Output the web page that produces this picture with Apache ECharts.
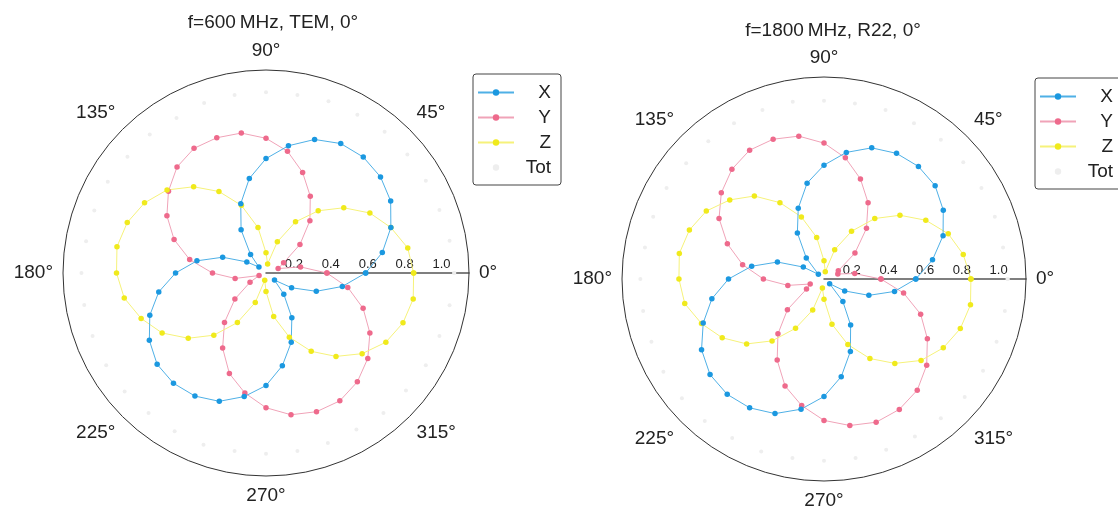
<!DOCTYPE html>
<html>
<head>
<meta charset="utf-8">
<script src="https://cdn.jsdelivr.net/npm/echarts@6/dist/echarts.min.js"></script>
<style>html,body{margin:0;padding:0;background:#fff;}#c{width:1118px;height:509px;}</style>
</head>
<body>
<div id="c"></div>
<script>
// Angles (degrees) of the sampled points
const angles = [0,10,20,30,40,50,60,70,80,90,100,110,120,130,140,150,160,170,180,190,200,210,220,230,240,250,260,270,280,290,300,310,320,330,340,350];
const angleTicks = ['0°','45°','90°','135°','180°','225°','270°','315°'];
const radiusTicks = ['0.2','0.4','0.6','0.8','1.0'];
const seriesNames = ['X','Y','Z','Tot'];
const titles = ['f=600\u2009MHz, TEM, 0°', 'f=1800\u2009MHz, R22, 0°'];

// Left plot: f=600 MHz, TEM
const tem_X = [0.54,0.64,0.72,0.78,0.81,0.82,0.81,0.77,0.70,0.62,0.52,0.40,0.27,0.13,0.05,0.12,0.25,0.38,0.49,0.59,0.67,0.73,0.77,0.78,0.77,0.74,0.68,0.61,0.51,0.40,0.28,0.15,0.06,0.16,0.29,0.42];
const tem_Y = [0.33,0.19,0.07,0.11,0.24,0.37,0.48,0.58,0.67,0.73,0.77,0.78,0.78,0.75,0.69,0.62,0.53,0.42,0.29,0.17,0.04,0.10,0.22,0.35,0.47,0.58,0.66,0.73,0.78,0.80,0.80,0.77,0.72,0.65,0.56,0.45];
const tem_Z = [0.80,0.78,0.72,0.65,0.55,0.44,0.32,0.18,0.05,0.11,0.25,0.39,0.51,0.61,0.70,0.76,0.80,0.82,0.81,0.78,0.72,0.65,0.55,0.44,0.31,0.17,0.04,0.10,0.24,0.37,0.49,0.59,0.68,0.75,0.79,0.81];
const tem_Tot = [1.02,1.01,1.00,1.00,1.00,1.00,0.99,0.99,0.98,0.98,0.98,0.98,0.97,0.98,0.98,0.99,0.99,0.99,1.00,1.00,1.00,1.00,1.00,0.99,0.99,0.99,0.98,0.98,0.98,0.98,0.98,0.99,0.99,1.00,1.00,1.01];

// Right plot: f=1800 MHz, R22
const r22_X = [0.50,0.60,0.69,0.75,0.79,0.80,0.79,0.76,0.70,0.62,0.53,0.41,0.29,0.15,0.04,0.13,0.27,0.40,0.52,0.62,0.70,0.77,0.81,0.82,0.81,0.78,0.72,0.64,0.54,0.42,0.29,0.16,0.04,0.13,0.26,0.39];
const r22_Y = [0.31,0.17,0.08,0.09,0.22,0.36,0.48,0.58,0.67,0.74,0.79,0.81,0.81,0.78,0.73,0.66,0.56,0.45,0.33,0.20,0.08,0.11,0.26,0.39,0.51,0.62,0.70,0.77,0.81,0.83,0.82,0.79,0.73,0.65,0.56,0.44];
const r22_Z = [0.80,0.77,0.72,0.64,0.54,0.43,0.30,0.17,0.04,0.10,0.23,0.36,0.48,0.59,0.67,0.74,0.78,0.80,0.79,0.77,0.71,0.64,0.55,0.44,0.31,0.18,0.05,0.11,0.25,0.38,0.50,0.60,0.69,0.75,0.79,0.81];
const r22_Tot = [1.00,0.99,0.99,0.99,0.99,0.99,0.98,0.98,0.97,0.97,0.98,0.98,0.98,0.98,0.98,0.99,0.99,0.99,1.00,1.00,1.00,1.01,1.01,1.01,1.00,1.00,0.99,0.99,0.99,0.99,0.99,0.99,1.00,1.00,1.00,1.00];

const plots = [
  {X: tem_X, Y: tem_Y, Z: tem_Z, Tot: tem_Tot},
  {X: r22_X, Y: r22_Y, Z: r22_Z, Tot: r22_Tot}
];

const FONT = 'Liberation Sans, Arial, Helvetica, sans-serif';
const styles = {
  X:   {color: '#1b98e0', line: '#4fb0e6', size: 5.5},
  Y:   {color: '#ee6a8c', line: '#f0a3b8', size: 5.5},
  Z:   {color: '#f0ea1c', line: '#f6f27a', size: 5.5},
  Tot: {color: '#eeeeee', line: 'rgba(0,0,0,0)', size: 4}
};

function toData(vals) {
  const d = angles.map((a, i) => [vals[i], a]);
  d.push([vals[0], 360]); // close the loop
  return d;
}

const layouts = [
  {center: [266, 273], radius: 203, title: [268, 8], legend: [473, 74]},
  {center: [824, 279], radius: 202, title: [828, 16], legend: [1035, 78]}
];

const option = {
  backgroundColor: '#fff',
  animation: false,
  title: layouts.map((L, i) => ({
    text: titles[i], left: L.title[0], top: L.title[1], textAlign: 'center',
    textStyle: {fontFamily: FONT, fontSize: 19, fontWeight: 'normal', color: '#222'}
  })),
  legend: layouts.map((L, i) => ({
    left: L.legend[0], top: L.legend[1], orient: 'vertical',
    data: seriesNames.map(n => ({name: n})),
    itemWidth: 36, itemHeight: 8, itemGap: 6,
    padding: [9, 10, 8, 4],
    borderColor: '#444', borderWidth: 1, borderRadius: 3,
    selectedMode: false,
    formatter: name => '{a|' + name + '}',
    textStyle: {
      fontFamily: FONT, fontSize: 19, color: '#222',
      rich: {a: {fontFamily: FONT, fontSize: 19, color: '#222', width: 32, align: 'right'}}
    }
  })),
  polar: layouts.map(L => ({center: L.center, radius: L.radius})),
  angleAxis: layouts.map((L, i) => ({
    polarIndex: i, type: 'value', min: 0, max: 360, interval: 45,
    startAngle: 0, clockwise: false,
    axisLine: {show: true, lineStyle: {color: '#333', width: 1}},
    axisTick: {show: false},
    splitLine: {show: false},
    axisLabel: {
      margin: 10, fontFamily: FONT, fontSize: 19, color: '#222',
      formatter: v => { const k = Math.round(v / 45); return k < angleTicks.length ? angleTicks[k] : ''; }
    }
  })),
  radiusAxis: layouts.map((L, i) => ({
    polarIndex: i, type: 'value', min: 0, max: 1.1, interval: 0.2,
    axisLine: {show: true, lineStyle: {color: '#555', width: 1.5}},
    axisTick: {show: false},
    splitLine: {show: false},
    axisLabel: {
      fontFamily: FONT, fontSize: 13, color: '#222', margin: 2, align: 'right',
      formatter: v => { const k = Math.round(v / 0.2); return (k >= 1 && Math.abs(v - k * 0.2) < 1e-6 && k <= radiusTicks.length) ? radiusTicks[k - 1] : ''; }
    }
  })),
  series: []
};

plots.forEach((p, pi) => {
  ['Tot', 'Y', 'Z', 'X'].forEach(n => {
    const s = styles[n];
    option.series.push({
      name: n, type: 'line', coordinateSystem: 'polar', polarIndex: pi,
      data: toData(p[n]), symbol: 'circle', symbolSize: s.size, showSymbol: true,
      itemStyle: {color: s.color},
      lineStyle: {color: s.line, width: n === 'Tot' ? 0 : 1},
      z: n === 'Tot' ? 1 : 2
    });
  });
});

const chart = echarts.init(document.getElementById('c'), null, {renderer: 'canvas'});
chart.setOption(option);
</script>
</body>
</html>
